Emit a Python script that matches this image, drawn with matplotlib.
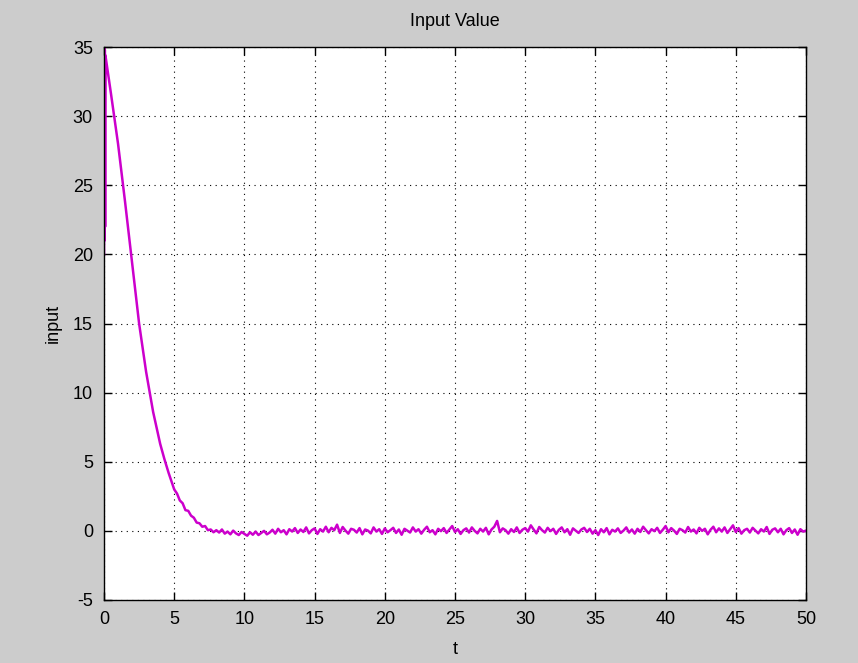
import numpy as np
import matplotlib
matplotlib.use("Agg")
import matplotlib.pyplot as plt

# ---- data ----
decay_t = [0.0, 0.02, 0.04, 0.06, 0.08, 0.1, 0.5, 1.0, 1.5, 2.0, 2.5, 3.0, 3.5,
           4.0, 4.3, 4.6, 5.0, 5.2, 5.4, 5.6, 5.8, 6.0, 6.2, 6.4, 6.6, 6.8, 7.0,
           7.2, 7.4, 7.6, 7.8]
decay_y = [20.0, 35.0, 21.0, 34.8, 22.0, 34.4, 31.6, 28.0, 23.8, 19.4, 15.0, 11.5, 8.6,
           6.3, 5.2, 4.2, 3.0, 2.7, 2.2, 2.0, 1.5, 1.45, 1.1, 0.95, 0.6, 0.55, 0.3,
           0.35, 0.05, 0.1, -0.1]

noise_start = 8.0
noise_step = 0.2
noise_y = [
    0.05, -0.12, 0.10, -0.20, -0.05, -0.25, 0.02, -0.18, -0.30, -0.08,
    -0.22, -0.35, -0.10, -0.28, -0.05, -0.30, -0.15, 0.00, -0.25, -0.12,
    0.08, -0.20, 0.15, -0.10, 0.05, -0.25, 0.12, -0.05, 0.20, -0.15,
    0.10, -0.08, 0.25, -0.18, 0.05, 0.18, -0.22, 0.12, -0.05, 0.30,
    -0.10, 0.22, 0.05, 0.45, -0.15, 0.28, 0.02, -0.20, 0.15, 0.08,
    -0.12, 0.20, -0.25, 0.10, 0.02, -0.18, 0.25, -0.05, 0.12, -0.22,
    0.18, -0.10, 0.05, 0.22, -0.15, 0.10, -0.28, 0.15, 0.02, -0.12,
    0.25, -0.05, 0.12, -0.20, 0.08, 0.30, -0.10, 0.05, -0.25, 0.15,
    -0.02, 0.20, -0.15, 0.10, 0.35, -0.08, 0.12, -0.22, 0.05, 0.18,
    -0.12, 0.25, 0.00, -0.18, 0.15, -0.05, 0.22, -0.25, 0.10, 0.30,
    0.72, -0.10, 0.18, 0.05, -0.20, 0.12, -0.08, 0.25, -0.15, 0.08,
    0.20, -0.05, 0.40, 0.10, -0.18, 0.28, 0.05, -0.12, 0.22, -0.02,
    0.15, -0.22, 0.08, 0.25, -0.10, 0.12, -0.28, 0.18, 0.02, -0.15,
    0.10, 0.22, -0.08, 0.15, -0.20, 0.05, -0.30, 0.12, -0.10, 0.20,
    -0.25, 0.08, -0.05, 0.18, -0.15, 0.02, 0.25, -0.12, 0.10, -0.20,
    0.15, -0.08, 0.30, 0.05, -0.18, 0.12, -0.02, 0.22, -0.15, 0.08,
    0.35, -0.10, 0.20, 0.02, -0.22, 0.15, 0.05, -0.12, 0.28, -0.05,
    0.10, -0.18, 0.22, 0.00, 0.15, -0.25, 0.08, 0.30, -0.10, 0.18,
    -0.05, 0.25, -0.15, 0.12, 0.40, -0.08, 0.20, -0.20, 0.05, 0.15,
    -0.12, 0.22, 0.02, -0.18, 0.12, -0.05, 0.28, -0.22, 0.08, 0.18,
    -0.10, 0.15, -0.25, 0.05, 0.20, -0.15, 0.10, -0.28, 0.12, -0.05,
    0.02,
]

x_ticks = [0, 5, 10, 15, 20, 25, 30, 35, 40, 45, 50]
y_ticks = [-5, 0, 5, 10, 15, 20, 25, 30, 35]
title = "Input Value"
xlabel = "t"
ylabel = "input"

noise_t = noise_start + noise_step * np.arange(len(noise_y))
t = np.concatenate([np.array(decay_t), noise_t])
y = np.concatenate([np.array(decay_y), np.array(noise_y)])

plt.rcParams['font.family'] = ['Liberation Sans', 'DejaVu Sans']
plt.rcParams['axes.unicode_minus'] = False

fig = plt.figure(figsize=(8.58, 6.63), dpi=100, facecolor='#cccccc')
ax = fig.add_axes([104/858, 1 - 600/663, (806 - 104)/858, (600 - 47)/663])
ax.set_facecolor('white')

ax.plot(t, y, color='#cc00cc', lw=1.8)

ax.set_xlim(0, 50)
ax.set_ylim(-5, 35)
ax.set_xticks(x_ticks)
ax.set_yticks(y_ticks)
ax.grid(True, color='black', linestyle=(0, (1, 4)), linewidth=0.8)
ax.tick_params(direction='in', length=6, width=1.0, top=True, right=True,
               labelsize=13, pad=8, colors='black')
for s in ax.spines.values():
    s.set_linewidth(1.0)
    s.set_color('black')

ax.set_title(title, fontsize=13, pad=15)
ax.set_xlabel(xlabel, fontsize=13, labelpad=9)
ax.set_ylabel(ylabel, fontsize=13, labelpad=8)

fig.savefig('out.png', dpi=100, facecolor=fig.get_facecolor())
